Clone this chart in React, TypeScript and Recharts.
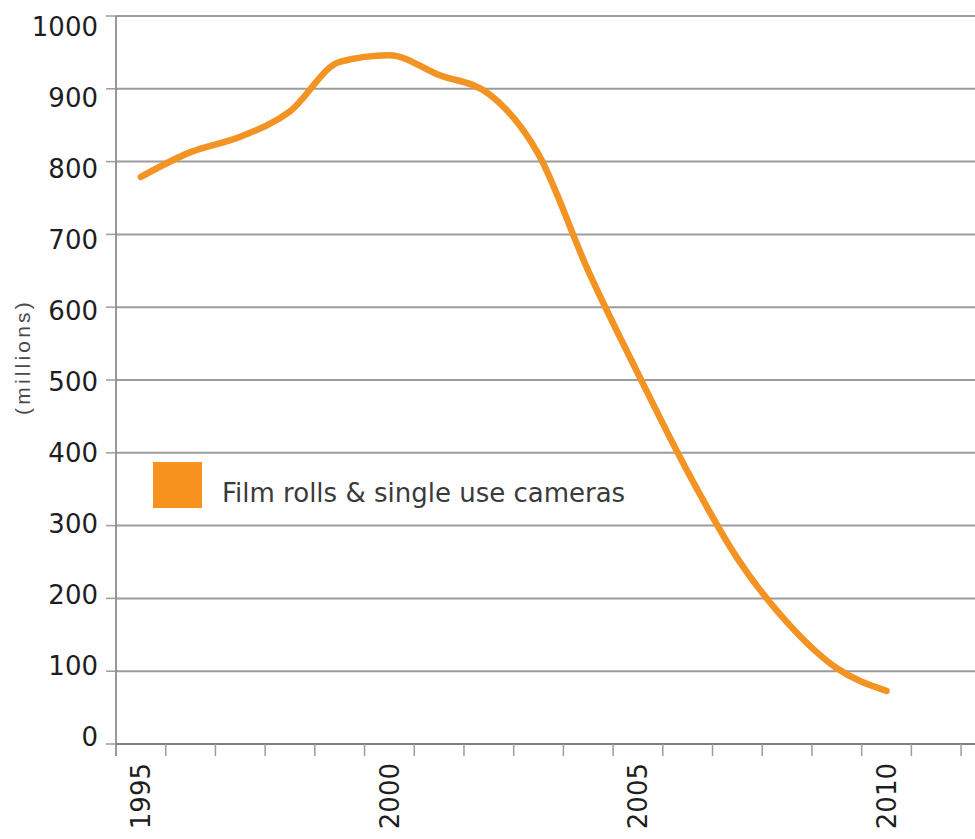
import { LineChart, Line, XAxis, YAxis, CartesianGrid, Legend } from "recharts";

// Film rolls & single use cameras sold, millions per year
const years = [1995, 1996, 1997, 1998, 1999, 2000, 2001, 2002, 2003, 2004, 2005, 2006, 2007, 2008, 2009, 2010];
const units = [779, 813, 834, 869, 937, 946, 919, 893, 810, 650, 509, 374, 255, 167, 104, 73];
const yearLabels = [1995, 2000, 2005, 2010];
const valueTicks = [0, 100, 200, 300, 400, 500, 600, 700, 800, 900, 1000];
const seriesName = "Film rolls & single use cameras";

const data = years.map((year, i) => ({ year, units: units[i] }));

const FONT = '"DejaVu Sans", Verdana, sans-serif';
const THIN_FONT = '"Liberation Sans", Arial, Helvetica, sans-serif';
const ORANGE = "#F29324";
const GRID = "#9c9c9c";
const AXIS = "#777";

// tick marks sit between the years, labels on the years
const firstEdge = years[0] - 0.5;
const xMax = 2011.78;
const edges = Array.from({ length: Math.floor(xMax - firstEdge) + 1 }, (_, i) => firstEdge + i);
const xTicks = [...edges, ...yearLabels].sort((a, b) => a - b);

function XTick(props: any) {
  const { x, y, payload } = props;
  const v = payload.value;
  if (!Number.isInteger(v)) {
    return <line x1={x} x2={x} y1={y} y2={y + 12} stroke={v === firstEdge ? AXIS : GRID} strokeWidth={1.5} />;
  }
  const ty = y + 19;
  return (
    <text
      x={x}
      y={ty}
      transform={`rotate(-90 ${x} ${ty})`}
      textAnchor="end"
      dy="0.36em"
      fontFamily={FONT}
      fontSize={26}
      fill="#1e1e1e"
    >
      {v}
    </text>
  );
}

function YTick(props: any) {
  const { x, y, payload } = props;
  // the scanned labels drift a little against the grid
  const shift = -7 + (18 * payload.value) / 1000;
  return (
    <g>
      <line x1={x - 10} x2={x} y1={y} y2={y} stroke={GRID} strokeWidth={1.5} />
      <text
        x={x - 18}
        y={y + shift}
        textAnchor="end"
        dy="0.36em"
        fontFamily={FONT}
        fontSize={26}
        fill="#1e1e1e"
      >
        {payload.value}
      </text>
    </g>
  );
}

function YTitle(props: any) {
  const { viewBox } = props;
  const cx = viewBox.x + 22;
  const cy = viewBox.y + viewBox.height / 2 - 23;
  return (
    <text
      x={cx}
      y={cy}
      transform={`rotate(-90 ${cx} ${cy})`}
      textAnchor="middle"
      dy="0.36em"
      fontFamily={THIN_FONT}
      fontSize={21}
      letterSpacing={3.2}
      fill="#4a4a4a"
    >
      (millions)
    </text>
  );
}

function LegendBox(props: any) {
  const entry = (props.payload || [])[0];
  if (!entry) return null;
  return (
    <div style={{ display: "flex", alignItems: "flex-start" }}>
      <span style={{ display: "block", width: 49, height: 46, background: "#F7921E" }} />
      <span
        style={{
          marginLeft: 20,
          marginTop: 18,
          fontFamily: FONT,
          fontSize: 26,
          lineHeight: "26px",
          color: "#3a3a3a",
          whiteSpace: "nowrap",
        }}
      >
        {entry.value}
      </span>
    </div>
  );
}

export default function App() {
  return (
    <div style={{ position: "absolute", left: 0, top: 0, background: "#fff" }}>
      <LineChart width={975} height={839} data={data} margin={{ top: 16, right: 0, bottom: 0, left: 0 }}>
        <CartesianGrid vertical={false} stroke={GRID} strokeWidth={2} />
        <XAxis
          dataKey="year"
          type="number"
          domain={[firstEdge, xMax]}
          ticks={xTicks}
          interval={0}
          allowDataOverflow
          height={95}
          tickSize={0}
          tickMargin={0}
          tickLine={false}
          tick={<XTick />}
          axisLine={{ stroke: AXIS, strokeWidth: 1.5 }}
        />
        <YAxis
          type="number"
          domain={[0, 1000]}
          ticks={valueTicks}
          interval={0}
          width={116}
          tickSize={0}
          tickMargin={0}
          tickLine={false}
          tick={<YTick />}
          axisLine={{ stroke: AXIS, strokeWidth: 1.5 }}
          label={<YTitle />}
        />
        <Legend
          layout="horizontal"
          verticalAlign="middle"
          align="center"
          wrapperStyle={{ left: 153, top: 462, width: "auto" }}
          content={<LegendBox />}
        />
        <Line
          type="monotone"
          dataKey="units"
          name={seriesName}
          stroke={ORANGE}
          strokeWidth={6.5}
          dot={false}
          activeDot={false}
          strokeLinecap="round"
          isAnimationActive={false}
        />
      </LineChart>
    </div>
  );
}
